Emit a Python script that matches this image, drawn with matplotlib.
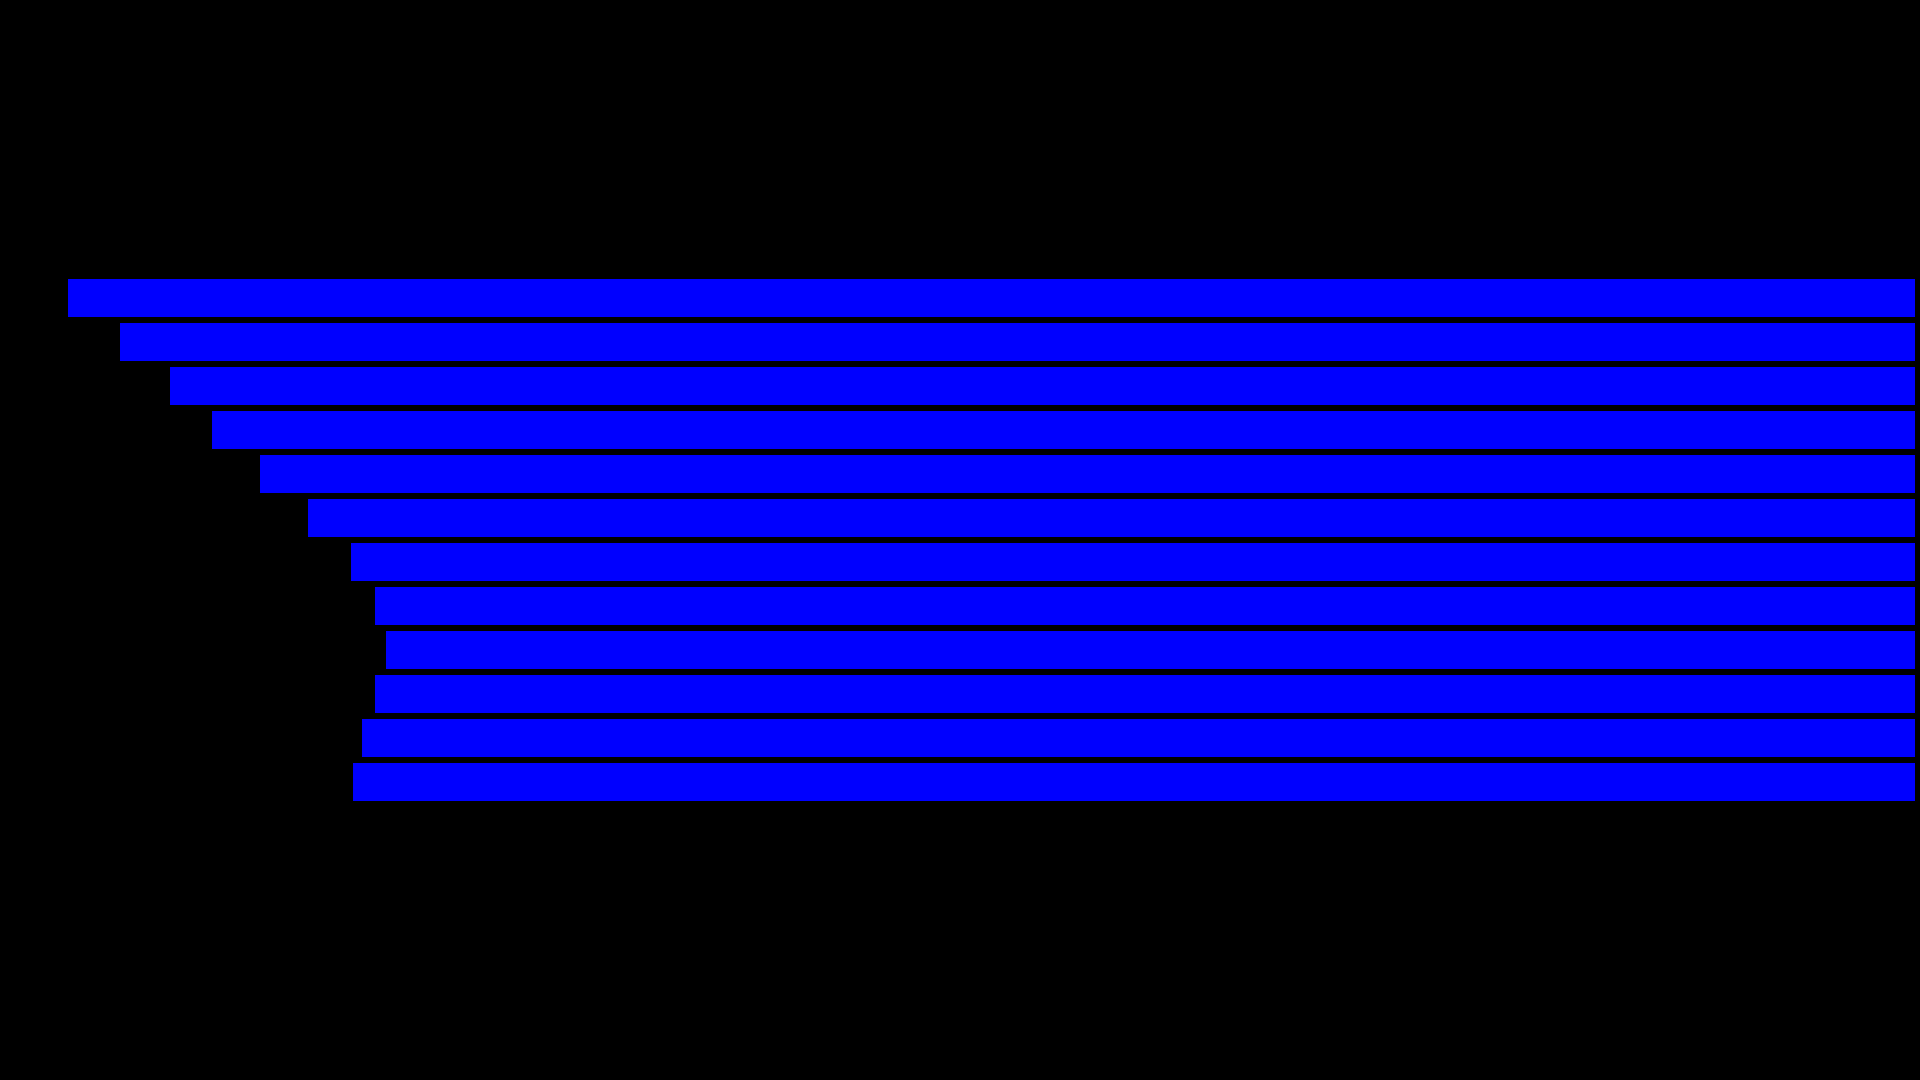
import matplotlib
matplotlib.use("Agg")
import matplotlib.pyplot as plt
import numpy as np

# bar values, top to bottom (bars grow leftwards from the right edge)
categories = [f"C{i + 1}" for i in range(12)]
values = [100.0, 97.2, 94.5, 92.2, 89.6, 87.0, 84.7, 83.4, 82.8, 83.4, 84.1, 84.6]

X_MAX = 103.7


def main():
    fig = plt.figure(figsize=(19.2, 10.8), dpi=100, facecolor="black")
    # axes spans almost the full width; zero sits at the right edge
    ax = fig.add_axes([0, 0.2556, 1915 / 1920, 0.4889])
    ax.set_facecolor("black")

    y = np.arange(len(categories))
    ax.barh(y, values, height=0.86, color="#0000ff")

    ax.set_xlim(X_MAX, 0)
    ax.set_ylim(len(categories) - 0.5, -0.5)
    ax.axis("off")

    fig.savefig("out.png", dpi=100, facecolor="black")


if __name__ == "__main__":
    main()
